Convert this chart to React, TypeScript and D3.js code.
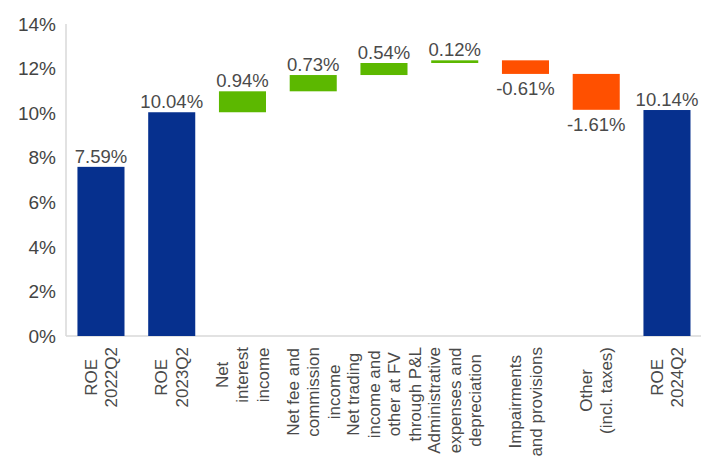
import React from "react";
import * as d3 from "d3";

const categories: string[][] = [
  ["ROE", "2022Q2"],
  ["ROE", "2023Q2"],
  ["Net", "interest", "income"],
  ["Net fee and", "commission", "income"],
  ["Net trading", "income and", "other at FV", "through P&L"],
  ["Administrative", "expenses and", "depreciation"],
  ["Impairments", "and provisions"],
  ["Other", "(incl. taxes)"],
  ["ROE", "2024Q2"],
];
const values: number[] = [7.59, 10.04, 0.94, 0.73, 0.54, 0.12, -0.61, -1.61, 10.14];
const kinds: string[] = ["total", "total", "delta", "delta", "delta", "delta", "delta", "delta", "total"];
const yTicks: number[] = [0, 2, 4, 6, 8, 10, 12, 14];

const W = 701;
const H = 458;
const FONT = "'Liberation Sans', Arial, sans-serif";
const BLUE = "#06308e";
const GREEN = "#5cb800";
const ORANGE = "#ff5000";

function measure(text: string, size: number): number {
  const c = document.createElement("canvas").getContext("2d");
  if (!c) return text.length * size * 0.5;
  c.font = `${size}px ${FONT}`;
  return c.measureText(text).width;
}

export default function App() {
  const x = d3
    .scaleBand<number>()
    .domain(d3.range(categories.length))
    .range([65.6, 65.6 + 70.75 * 9])
    .paddingInner(0.335)
    .paddingOuter(0.1675);
  const y = d3.scaleLinear().domain([0, 14]).range([336, 24]);

  let running = 0;
  const bars = values.map((v, i) => {
    let lo: number, hi: number;
    if (kinds[i] === "total") {
      lo = 0;
      hi = v;
      running = v;
    } else {
      const start = running;
      running = start + v;
      lo = Math.min(start, running);
      hi = Math.max(start, running);
    }
    const color = kinds[i] === "total" ? BLUE : v >= 0 ? GREEN : ORANGE;
    return { i, v, lo, hi, color };
  });

  const fmt = (v: number) => `${v.toFixed(2)}%`;
  const catSize = 17;
  const lineH = 20.5;
  const labelTop = 347;

  return (
    <svg
      width={W}
      height={H}
      style={{ position: "absolute", left: 0, top: 0, background: "#fff" }}
      fontFamily={FONT}
    >
      <rect width={W} height={H} fill="#fff" />
      <line x1={66} x2={66} y1={y(14)} y2={y(0)} stroke="#d9d9d9" strokeWidth={1.5} />
      <line x1={66} x2={W} y1={y(0)} y2={y(0)} stroke="#d9d9d9" strokeWidth={1.5} />
      {yTicks.map((t) => (
        <text
          key={t}
          x={56}
          y={y(t)}
          dy="0.35em"
          textAnchor="end"
          fontSize={19}
          fill="#444"
        >
          {`${t}%`}
        </text>
      ))}
      {bars.map((b) => (
        <rect
          key={b.i}
          x={x(b.i)}
          width={x.bandwidth()}
          y={y(b.hi)}
          height={Math.max(1, y(b.lo) - y(b.hi))}
          fill={b.color}
        />
      ))}
      {bars.map((b) => {
        const cx = (x(b.i) as number) + x.bandwidth() / 2;
        const neg = b.v < 0;
        return (
          <text
            key={b.i}
            x={cx}
            y={neg ? y(b.lo) + 21 : y(b.hi) - 4}
            textAnchor="middle"
            fontSize={18.5}
            fill="#4a4a4a"
          >
            {fmt(b.v)}
          </text>
        );
      })}
      {categories.map((lines, i) => {
        const cx = (x(i) as number) + x.bandwidth() / 2;
        const maxW = Math.max(...lines.map((l) => measure(l, catSize)));
        const midY = labelTop + maxW / 2;
        const n = lines.length;
        return (
          <g key={i}>
            {lines.map((l, k) => {
              const lx = cx + (k - (n - 1) / 2) * lineH;
              return (
                <text
                  key={k}
                  transform={`translate(${lx},${midY}) rotate(-90)`}
                  textAnchor="middle"
                  dy="0.35em"
                  fontSize={catSize}
                  fill="#4a4a4a"
                >
                  {l}
                </text>
              );
            })}
          </g>
        );
      })}
    </svg>
  );
}
